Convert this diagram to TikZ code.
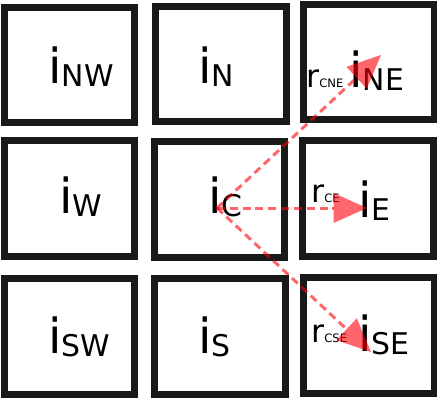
\documentclass[tikz,border=0pt]{standalone}
\usepackage{fontspec}
\setmainfont{DejaVu Sans}
\usetikzlibrary{arrows.meta}
\usepackage{xcolor}
\definecolor{cellblack}{RGB}{25,25,25}
\definecolor{flowred} {RGB}{255,0,10}

\newcommand{\ilab}[1]{{\fontsize{27.5}{28}\selectfont i}\raisebox{-2pt}{\fontsize{17}{17}\selectfont #1}}
\newcommand{\rlab}[1]{{\fontsize{18}{18}\selectfont r}{\fontsize{6.6}{7}\selectfont #1}}

\begin{document}
\begin{tikzpicture}[
  x=0.02cm,y=-0.02cm,
  cell/.style={draw=cellblack,line width=0.14cm,fill=white,
               minimum width=2.62cm,minimum height=2.32cm,inner sep=0pt},
  lab/.style={anchor=base west,inner sep=0pt},
  flow/.style={draw=flowred,opacity=0.6,line width=1.7pt,
               dash pattern=on 4.5pt off 2.8pt,
               -{Triangle[length=19pt,width=17pt,line width=0pt]}},
]
\useasboundingbox (0,0) rectangle (438,400);

%% ── 3x3 neighbourhood cells ─────────────────────────────────────────────
\node[cell] (NW) at (69.5,65)  {};
\node[cell] (N)  at (221,64)   {};
\node[cell] (NE) at (368.5,62) {};
\node[cell] (W)  at (69.5,198) {};
\node[cell] (C)  at (219.5,199.5) {};
\node[cell] (E)  at (368,198.5) {};
\node[cell] (SW) at (69.5,336.5) {};
\node[cell] (S)  at (220,336.5) {};
\node[cell] (SE) at (368.5,335) {};

%% ── cell labels ─────────────────────────────────────────────────────────
\node[lab] (lNW) at (48,83)   {\ilab{NW}};
\node[lab] (lN)  at (198,83)  {\ilab{N}};
\node[lab] (lNE) at (349,87)  {\ilab{NE}};
\node[lab] (lW)  at (59,213)  {\ilab{W}};
\node[lab] (lC)  at (208,213) {\ilab{C}};
\node[lab] (lE)  at (358,217) {\ilab{E}};
\node[lab] (lSW) at (48,353)  {\ilab{SW}};
\node[lab] (lS)  at (198,353) {\ilab{S}};
\node[lab] (lSE) at (358,351) {\ilab{SE}};

%% ── rate labels ─────────────────────────────────────────────────────────
\node[lab] (rCNE) at (306,87)  {\rlab{CNE}};
\node[lab] (rCE)  at (311,202) {\rlab{CE}};
\node[lab] (rCSE) at (311,342) {\rlab{CSE}};

%% ── flows out of the centre cell ────────────────────────────────────────
\coordinate (src) at (217,208);
\coordinate (tNE) at (381,55);
\coordinate (tE)  at (367,208);
\coordinate (tSE) at (371,352);
\draw[flow] (src) -- (tNE);
\draw[flow] (src) -- (tE);
\draw[flow] (src) -- (tSE);

\end{tikzpicture}
\end{document}
